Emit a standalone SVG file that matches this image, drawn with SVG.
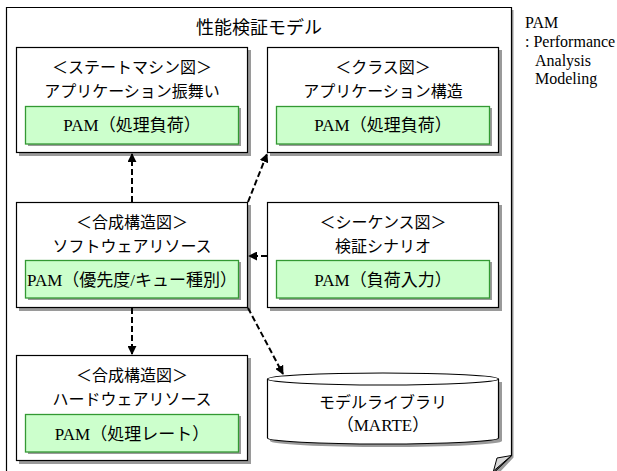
<svg xmlns="http://www.w3.org/2000/svg" width="617" height="471" viewBox="0 0 617 471">
<style>
.box{fill:#fff;stroke:#000;stroke-width:1.2}
.shd{fill:#9a9a9a}
.grn{fill:#ccffcc;stroke:#339933;stroke-width:1.3}
.jp{font-family:"Noto Sans CJK JP",sans-serif;font-size:16px;fill:#000;text-anchor:middle}
.pam{font-family:"Liberation Serif","Noto Sans CJK JP",serif;font-size:17px;fill:#000;text-anchor:middle}
.leg{font-family:"Liberation Serif",serif;font-size:16px;fill:#000}
.con{fill:none;stroke:#000;stroke-width:2;stroke-dasharray:6 3}
</style>
<defs>
<marker id="ah" viewBox="0 0 10 10" refX="9" refY="5" markerWidth="9" markerHeight="9" markerUnits="userSpaceOnUse" orient="auto">
<path d="M0,0 L10,5 L0,10 z" fill="#000"/>
</marker>
</defs>
<rect width="617" height="471" fill="#fff"/>
<g id="frame">
<path d="M512,10 V457 L496,474" fill="none" stroke="#9a9a9a" stroke-width="3"/>
<path class="box" d="M6.5,7.5 H511.5 V455.5 L493.5,473 H6.5 Z"/>
<path d="M511.5,455.5 L497,458 L493.5,471 Z" fill="#d8d8d8" stroke="#000" stroke-width="1"/>
<text x="259" y="34" class="jp" style="font-size:18px">性能検証モデル</text>
</g>
<g id="legend">
<text x="525" y="28" class="leg">PAM</text>
<text x="525" y="47" class="leg">: Performance</text>
<text x="535" y="66" class="leg">Analysis</text>
<text x="535" y="84" class="leg">Modeling</text>
</g>
<g id="node-statemachine">
<rect class="shd" x="19" y="50" width="232" height="106"/>
<rect class="box" x="16.5" y="47.5" width="231" height="105"/>
<text x="132" y="73" class="jp">＜ステートマシン図＞</text>
<text x="132" y="96.5" class="jp">アプリケーション振舞い</text>
<rect class="shd" x="28" y="108" width="213" height="38"/>
<rect class="grn" x="25.5" y="106.5" width="213" height="37.5"/>
<text x="132" y="131" class="pam">PAM（処理負荷）</text>
</g>
<g id="node-class">
<rect class="shd" x="270" y="50" width="232" height="106"/>
<rect class="box" x="267.5" y="47.5" width="231" height="105"/>
<text x="383" y="73" class="jp">＜クラス図＞</text>
<text x="383" y="96.5" class="jp">アプリケーション構造</text>
<rect class="shd" x="279" y="108" width="213" height="38"/>
<rect class="grn" x="276.5" y="106.5" width="213" height="37.5"/>
<text x="383" y="131" class="pam">PAM（処理負荷）</text>
</g>
<g id="node-composite-sw">
<rect class="shd" x="19" y="205" width="232" height="106"/>
<rect class="box" x="16.5" y="202.5" width="231" height="105"/>
<text x="132" y="228" class="jp">＜合成構造図＞</text>
<text x="132" y="251.5" class="jp">ソフトウェアリソース</text>
<rect class="shd" x="28" y="262" width="213" height="38"/>
<rect class="grn" x="25.5" y="260.5" width="213" height="37.5"/>
<text x="132" y="286" class="pam">PAM（優先度/キュー種別）</text>
</g>
<g id="node-sequence">
<rect class="shd" x="270" y="205" width="232" height="106"/>
<rect class="box" x="267.5" y="202.5" width="231" height="105"/>
<text x="383" y="228" class="jp">＜シーケンス図＞</text>
<text x="383" y="251.5" class="jp">検証シナリオ</text>
<rect class="shd" x="279" y="262" width="213" height="38"/>
<rect class="grn" x="276.5" y="260.5" width="213" height="37.5"/>
<text x="383" y="286" class="pam">PAM（負荷入力）</text>
</g>
<g id="node-composite-hw">
<rect class="shd" x="19" y="358" width="232" height="106"/>
<rect class="box" x="16.5" y="355.5" width="231" height="105"/>
<text x="132" y="381" class="jp">＜合成構造図＞</text>
<text x="132" y="404.5" class="jp">ハードウェアリソース</text>
<rect class="shd" x="28" y="416" width="213" height="38"/>
<rect class="grn" x="25.5" y="414.5" width="213" height="37.5"/>
<text x="132" y="440" class="pam">PAM（処理レート）</text>
</g>
<g id="node-library">
<path class="shd" d="M270,382 V441 A116,6 0 0 0 502,441 V382 Z"/>
<path class="box" d="M267.5,379 V438 A115.5,6 0 0 0 498.5,438 V379 A115.5,6 0 0 0 267.5,379 Z"/>
<path d="M267.5,379 A115.5,6 0 0 0 498.5,379" fill="none" stroke="#000" stroke-width="1.2"/>
<text x="383" y="408" class="jp">モデルライブラリ</text>
<text x="383" y="431" class="pam">（MARTE）</text>
</g>
<g id="connectors">
<path class="con" d="M132,202 V154" marker-end="url(#ah)"/>
<path class="con" d="M248,202 L267,154" marker-end="url(#ah)"/>
<path class="con" d="M267,256 H249" marker-end="url(#ah)"/>
<path class="con" d="M132,308 V354" marker-end="url(#ah)"/>
<path class="con" d="M248,308 L283,374" marker-end="url(#ah)"/>
</g>
</svg>
